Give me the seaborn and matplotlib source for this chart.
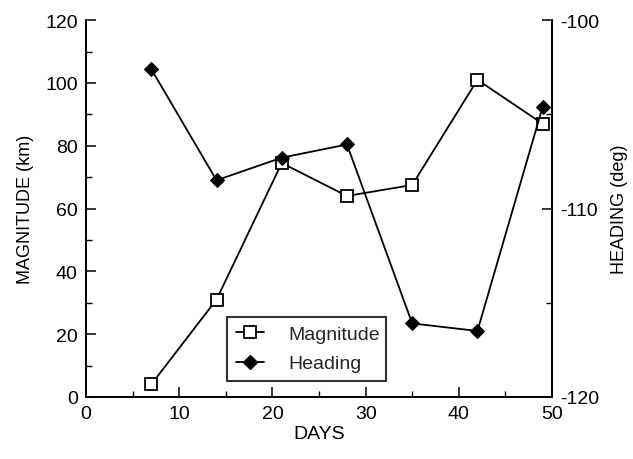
import matplotlib
matplotlib.use("Agg")
import matplotlib.pyplot as plt
import seaborn as sns
import pandas as pd
from matplotlib.ticker import MultipleLocator
from matplotlib.lines import Line2D

days = [7, 14, 21, 28, 35, 42, 49]
magnitude = [4, 31, 74.5, 64, 67.5, 101, 87]
heading = [-102.6, -108.5, -107.3, -106.6, -116.1, -116.5, -104.6]

sns.set_theme(style="white")
plt.rcParams['font.family'] = ['Liberation Sans', 'DejaVu Sans']

df = pd.DataFrame({"days": days, "magnitude": magnitude, "heading": heading})

fig = plt.figure(figsize=(6.33, 4.6), dpi=100)
ax = fig.add_axes([0.136, 0.135, 0.736, 0.819])
ax2 = ax.twinx()

sns.lineplot(data=df, x="days", y="magnitude", ax=ax, color="black", lw=1.3,
             marker="s", markersize=9, markerfacecolor="white",
             markeredgecolor="black", markeredgewidth=1.3, zorder=3)
sns.lineplot(data=df, x="days", y="heading", ax=ax2, color="black", lw=1.3,
             marker="D", markersize=7, markerfacecolor="black",
             markeredgecolor="black", zorder=3)

ax.set_xlim(0, 50)
ax.set_ylim(0, 120)
ax2.set_ylim(-120, -100)

ax.xaxis.set_major_locator(MultipleLocator(10))
ax.xaxis.set_minor_locator(MultipleLocator(5))
ax.yaxis.set_major_locator(MultipleLocator(20))
ax.yaxis.set_minor_locator(MultipleLocator(10))
ax2.yaxis.set_major_locator(MultipleLocator(10))
ax2.yaxis.set_minor_locator(MultipleLocator(5))

for a in (ax, ax2):
    for s in a.spines.values():
        s.set_color("black")
        s.set_linewidth(1.3)
    a.spines["top"].set_visible(False)
    a.tick_params(which="major", direction="in", length=7, width=1.1, colors="black",
                  labelsize=14, pad=6)
    a.tick_params(which="minor", direction="in", length=4, width=1.0, colors="black")
    a.grid(False)
ax.tick_params(axis="y", which="both", left=True, right=False)
ax.tick_params(axis="x", which="both", bottom=True, top=False)
ax2.tick_params(axis="y", which="both", right=True, left=False)

ax.set_xlabel("DAYS", fontsize=14, color="black", labelpad=2)
ax.set_ylabel("MAGNITUDE (km)", fontsize=13, color="black", labelpad=8)
ax2.set_ylabel("HEADING (deg)", fontsize=13, color="black", labelpad=8)
ax2.set_yticks([-120, -110, -100])
ax2.set_yticklabels(["-120", "-110", "-100"])

handles = [
    Line2D([], [], color="black", lw=1.3, marker="s", markersize=9,
           markerfacecolor="white", markeredgecolor="black", markeredgewidth=1.3),
    Line2D([], [], color="black", lw=1.3, marker="D", markersize=7,
           markerfacecolor="black", markeredgecolor="black"),
]
leg = ax2.legend(handles, ["Magnitude", "Heading"], loc="lower left",
                 bbox_to_anchor=(0.303, 0.042, 0.341, 0.183), mode="expand",
                 borderaxespad=0, frameon=True, fancybox=False, edgecolor="black",
                 fontsize=14, handlelength=1.45, handletextpad=1.25, borderpad=0.45,
                 labelspacing=0.6)
leg.get_frame().set_linewidth(1.5)
if ax.get_legend():
    ax.get_legend().remove()

fig.savefig("out.png", dpi=100)
